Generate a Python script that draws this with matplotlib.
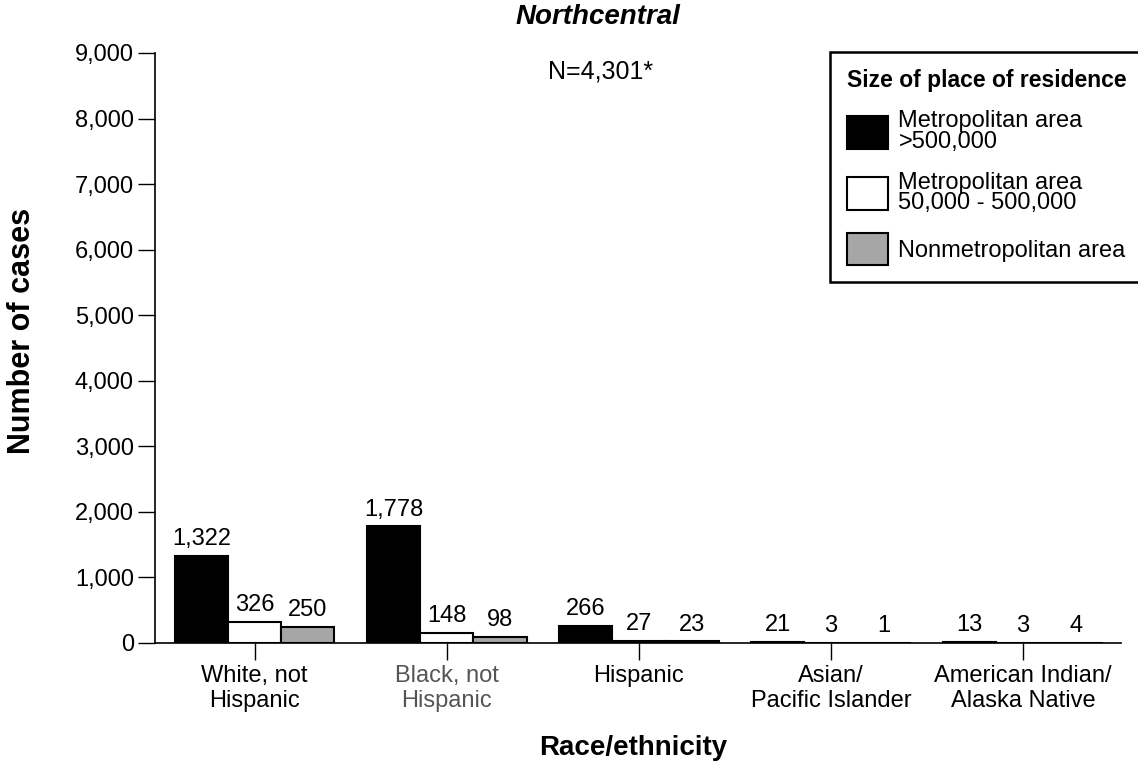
import matplotlib
matplotlib.use("Agg")
import matplotlib.pyplot as plt
import numpy as np

plt.rcParams['font.family'] = ['Liberation Sans', 'DejaVu Sans']

groups = ["White, not\nHispanic", "Black, not\nHispanic", "Hispanic",
          "Asian/\nPacific Islander", "American Indian/\nAlaska Native"]
metro_large = [1322, 1778, 266, 21, 13]
metro_mid = [326, 148, 27, 3, 3]
nonmetro = [250, 98, 23, 1, 4]
series_names = ["Metropolitan area\n>500,000", "Metropolitan area\n50,000 - 500,000",
                "Nonmetropolitan area"]
colors = ["#000000", "#ffffff", "#a6a6a6"]

fig = plt.figure(figsize=(11.38, 7.67), dpi=100)
ax = fig.add_axes([0.136, 0.1617, 0.849, 0.7692])

x = np.arange(len(groups))
w = 0.277
handles = []
for i, vals in enumerate([metro_large, metro_mid, nonmetro]):
    pos = x + (i - 1) * w
    b = ax.bar(pos, vals, width=w, color=colors[i], edgecolor="black", linewidth=1.5,
               label=series_names[i])
    handles.append(b)
    for p, v in zip(pos, vals):
        ax.text(p, v + 90, f"{v:,}", ha="center", va="bottom", fontsize=17)

ax.set_xlim(-0.52, 4.51)
ax.set_ylim(0, 9000)
ax.set_yticks(np.arange(0, 9001, 1000))
ax.set_yticklabels([f"{t:,}" for t in range(0, 9001, 1000)])
ax.set_xticks(x)
ax.set_xticklabels(groups, linespacing=1.15)
ax.tick_params(axis="both", labelsize=17, length=12, width=1, direction="out")
ax.tick_params(axis="y", pad=3)
ax.tick_params(axis="x", pad=4)
ax.get_xticklabels()[1].set_color("#555555")
for s in ["top", "right"]:
    ax.spines[s].set_visible(False)
for s in ["left", "bottom"]:
    ax.spines[s].set_linewidth(1.2)

fig.text(633 / 1138, 1 - 748 / 767, "Race/ethnicity", ha="center", va="center",
         fontsize=20, fontweight="bold")
fig.text(22 / 1138, 1 - 331 / 767, "Number of cases", ha="center", va="center",
         rotation=90, fontsize=22, fontweight="bold")
fig.text(598 / 1138, 1 - 17 / 767, "Northcentral", ha="center", va="center",
         fontsize=20, fontweight="bold", fontstyle="italic")
fig.text(601 / 1138, 1 - 72 / 767, "N=4,301*", ha="center", va="center", fontsize=18)

leg = fig.legend(handles=handles, labels=series_names, loc="upper left",
                 bbox_to_anchor=(830 / 1138, 1 - 52 / 767), borderaxespad=0,
                 title="Size of place of residence",
                 fontsize=17, handlelength=1.75, handleheight=1.75, handletextpad=0.45,
                 labelspacing=0.8, borderpad=0.7, fancybox=False, framealpha=1,
                 edgecolor="black")
leg.get_frame().set_linewidth(1.8)
leg.get_title().set_fontweight("bold")
leg.get_title().set_fontsize(16.5)
leg._legend_box.align = "left"
for t in leg.get_texts():
    t.set_linespacing(0.9)

fig.savefig("out.png", dpi=100)
